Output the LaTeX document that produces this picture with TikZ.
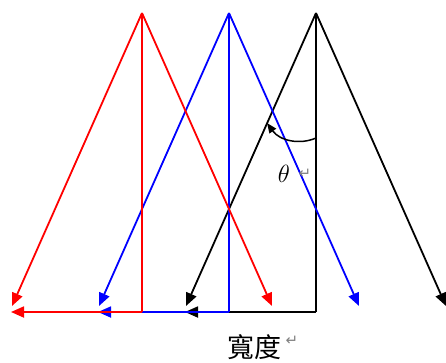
\documentclass[tikz,border=0pt]{standalone}
\usepackage{fontspec}
\usetikzlibrary{arrows.meta}
\newfontfamily\cjkfont{Noto Sans CJK TC}
\newfontfamily\symfont{DejaVu Sans}
\begin{document}
\begin{tikzpicture}[x=1pt,y=-1pt,
  ray/.style={line width=1.8pt,-{Triangle[length=13pt,width=11pt]}},
  leg/.style={line width=1.8pt},
  lbl/.style={inner sep=0pt,anchor=center}]
\useasboundingbox (0,0) rectangle (446,362);
% coordinates
\foreach \n/\x in {k/316,b/229,r/142}{
  \coordinate (A\n) at (\x,13);
  \coordinate (F\n) at (\x,312);
  \coordinate (L\n) at ({\x-130},306);
  \coordinate (R\n) at ({\x+130},306);
  \coordinate (H\n) at ({\x-131},312);
}
% black
\draw[leg,black] (Ak) -- (Fk);
\draw[ray,black] (Fk) -- (Hk);
\draw[ray,black] (Ak) -- (Lk);
\draw[ray,black] (Ak) -- (Rk);
% blue
\draw[leg,blue] (Ab) -- (Fb);
\draw[ray,blue] (Fb) -- (Hb);
\draw[ray,blue] (Ab) -- (Lb);
\draw[ray,blue] (Ab) -- (Rb);
% red
\draw[leg,red] (Ar) -- (Fr);
\draw[ray,red] (Fr) -- (Hr);
\draw[ray,red] (Ar) -- (Lr);
\draw[ray,red] (Ar) -- (Rr);
% angle
\coordinate (arcS) at (316,138);
\coordinate (arcE) at (267,123);
\draw[line width=1.5pt,-{Triangle[length=10pt,width=8pt]}] (arcS) .. controls (300,145) and (280,141) .. (arcE);
\node[lbl] (theta) at (284,174) {\fontsize{24}{24}\selectfont$\theta$};
\node[lbl,text=gray] (ret1) at (305,174) {\symfont\fontsize{15}{15}\selectfont ↵};
\node[lbl] (width) at (254,347) {\cjkfont\fontsize{27}{27}\selectfont 寬度};
\node[lbl,text=gray] (ret2) at (292,341) {\symfont\fontsize{15}{15}\selectfont ↵};
\end{tikzpicture}
\end{document}
